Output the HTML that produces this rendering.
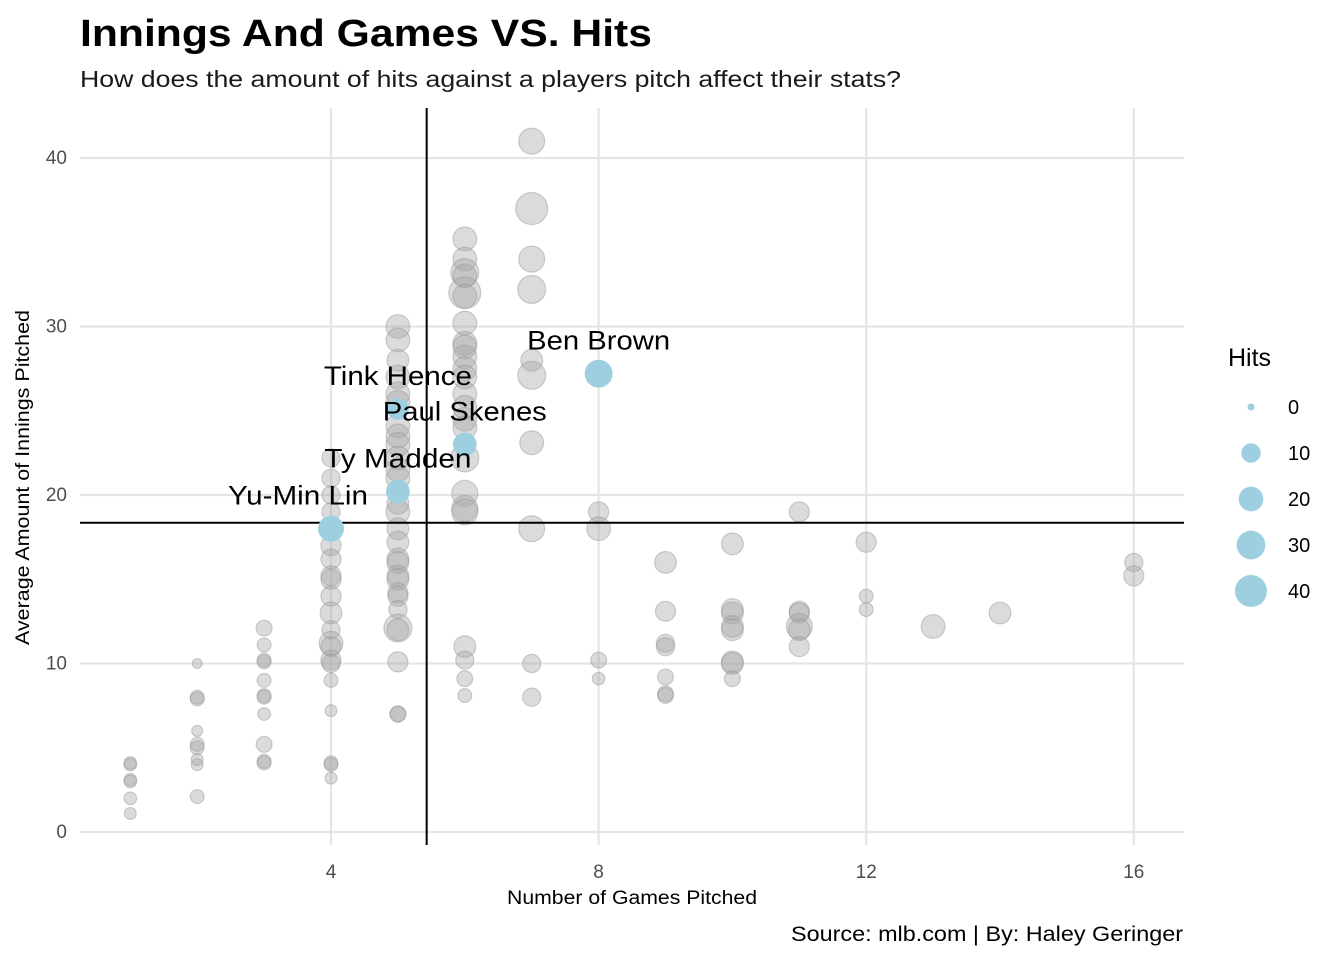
<!DOCTYPE html>
<html><head><meta charset="utf-8"><style>
body{margin:0;background:#fff;}
svg{display:block;font-family:"Liberation Sans",Arial,sans-serif;}
</style></head><body>
<svg id="chart" width="1344" height="960">
<text x="80" y="46" font-size="38" font-weight="bold" fill="#000" textLength="572" lengthAdjust="spacingAndGlyphs">Innings And Games VS. Hits</text>
<text x="80" y="87" font-size="23" fill="#1a1a1a" textLength="821" lengthAdjust="spacingAndGlyphs">How does the amount of hits against a players pitch affect their stats?</text>
<g id="grid"></g><g id="points"></g><g id="refs"></g><g id="labels"></g><g id="axes"></g><g id="legend"></g>
<text x="507" y="904" font-size="19" fill="#000" textLength="250" lengthAdjust="spacingAndGlyphs">Number of Games Pitched</text>
<text transform="translate(29,645) rotate(-90)" font-size="19" fill="#000" textLength="335" lengthAdjust="spacingAndGlyphs">Average Amount of Innings Pitched</text>
<text x="791" y="941" font-size="21" fill="#000" textLength="392" lengthAdjust="spacingAndGlyphs">Source: mlb.com | By: Haley Geringer</text>
</svg>
<script>
const xTicks=[4,8,12,16];
const yTicks=[0,10,20,30,40];
const games=[1,1,1,1,1,1, 2,2,2,2,2,2,2,2,2, 3,3,3,3,3,3,3,3,3,3,3,
4,4,4,4,4,4,4,4,4,4,4,4,4,4,4,4,4,4,4,4,
5,5,5,5,5,5,5,5,5,5,5,5,5,5,5,5,5,5,5,5,5,5,5,5,5,5,5,5,
6,6,6,6,6,6,6,6,6,6,6,6,6,6,6,6,6,6,6,6,6,6,6,6,
7,7,7,7,7,7,7,7,7,7, 8,8,8,8, 9,9,9,9,9,9,9, 10,10,10,10,10,10,10,10,
11,11,11,11,11,11, 12,12,12, 13, 14, 16,16];
const innings=[4.1,4.0,3.1,3.0,2.0,1.1, 10,8.0,7.9,6,5.2,5.0,4.3,4.0,2.1, 12.1,11.1,10.2,10.1,9,8.1,8.0,7.0,5.2,4.2,4.1,
22.2,21,20,19,17,16.2,15.2,15,14,13,12,11.2,11,10.2,10,9,7.2,4.1,4.0,3.2,
30,29.2,28,27,26,24.1,23.5,23,22.2,21.5,21,19.5,19,18,17.2,16.2,16,15.2,15,14.2,14,13.2,12.1,12,10.1,7,7.0,25.5,
35.2,34,33.2,33,32,31.8,30.2,29,28.2,27.5,27,26,25.2,24.5,24,22.2,20.1,19.2,19,11,10.2,9.1,8.1,28.8,
41,37,34,32.2,28,27.1,23.1,18,10,8, 19,18,10.2,9.1, 16,13.1,11.2,11,9.2,8.2,8.1, 17.1,13.2,13,12.2,12,10.1,10,9.1,
19,13.1,13,12.2,12,11, 17.2,14,13.2, 12.2, 13, 16,15.2];
const hits=[2,2,2,2,2,1.5, 0.5,3,3,1,3,3,1.5,1.5,3, 5,3,3,3,3,3,3,2,5,3,3,
8,8,8,8,11,11,11,11,11,14,8,18,11,11,8,3,1.5,3,3,1.5,
18,18,14,18,18,18,18,18,18,18,18,14,18,14,14,14,14,14,14,11,11,8,28,14,11,5,5,18,
18,18,28,18,40,18,18,18,18,18,18,18,18,18,18,28,23,23,23,14,8,5,3,18,
23,40,23,28,14,28,18,23,8,8, 11,18,5,2, 14,11,8,8,5,5,5, 14,14,14,14,14,14,14,5,
11,11,11,23,14,11, 11,3,3, 18, 14, 8,11];
const hlNames=["Ben Brown","Tink Hence","Paul Skenes","Ty Madden","Yu-Min Lin"];
const hlGames=[8,5,6,5,4];
const hlInnings=[27.2,25.1,23,20.2,18];
const hlHits=[28,14,18,18,23];
const meanGames=5.43, meanInnings=18.35;
const legendHits=[0,10,20,30,40];

const NS="http://www.w3.org/2000/svg";
const xS=v=>331+(v-4)*66.9;
const yS=v=>832-v*16.85;
const rS=h=>3.5+12.5*Math.sqrt(Math.max(h,0)/40);
function mk(p,t,a){const e=document.createElementNS(NS,t);for(const k in a)e.setAttribute(k,a[k]);document.getElementById(p).appendChild(e);return e;}
xTicks.forEach(t=>{const l=mk('grid','line',{x1:xS(t),x2:xS(t),y1:108,y2:845,stroke:'#e5e5e5','stroke-width':2.2});

const tx=mk('axes','text',{x:xS(t),y:878,'font-size':19,'text-anchor':'middle',fill:'#4d4d4d'});tx.textContent=t;
});
yTicks.forEach(t=>{const l=mk('grid','line',{x1:80,x2:1184,y1:yS(t),y2:yS(t),stroke:'#e5e5e5','stroke-width':2.2});

const tx=mk('axes','text',{x:67,y:yS(t)+6,'font-size':19,'text-anchor':'end',fill:'#4d4d4d'});tx.textContent=t;
});
games.forEach((g,i)=>{const c=mk('points','circle',{cx:xS(g),cy:yS(innings[i]),r:rS(hits[i]),fill:'rgba(165,165,165,0.4)',stroke:'rgba(150,150,150,0.45)','stroke-width':1.2});
});
const dx=[0,0,0,0,-33];
const lw=[143,148,164,147,140];
hlNames.forEach((n,i)=>{const c=mk('labels','circle',{cx:xS(hlGames[i]),cy:yS(hlInnings[i]),r:rS(hlHits[i]),fill:'#9ecfe1'});

const t=mk('labels','text',{x:xS(hlGames[i])+dx[i],y:yS(hlInnings[i])-24,'font-size':27,'text-anchor':'middle',fill:'#000',textLength:lw[i],lengthAdjust:'spacingAndGlyphs'});t.textContent=n;
});
const v=mk('refs','line',{x1:xS(meanGames),x2:xS(meanGames),y1:108,y2:845,stroke:'#000','stroke-width':2});

const h=mk('refs','line',{x1:80,x2:1184,y1:yS(meanInnings),y2:yS(meanInnings),stroke:'#000','stroke-width':2});

const lt=mk('legend','text',{x:1228,y:366,'font-size':25,fill:'#000'});lt.textContent='Hits';

legendHits.forEach((v,i)=>{const y=407+i*46;
const c=mk('legend','circle',{cx:1251,cy:y,r:rS(v),fill:'#9ecfe1'});

const t=mk('legend','text',{x:1288,y:y+7,'font-size':20,fill:'#000'});t.textContent=v;
});
</script>
</body></html>
